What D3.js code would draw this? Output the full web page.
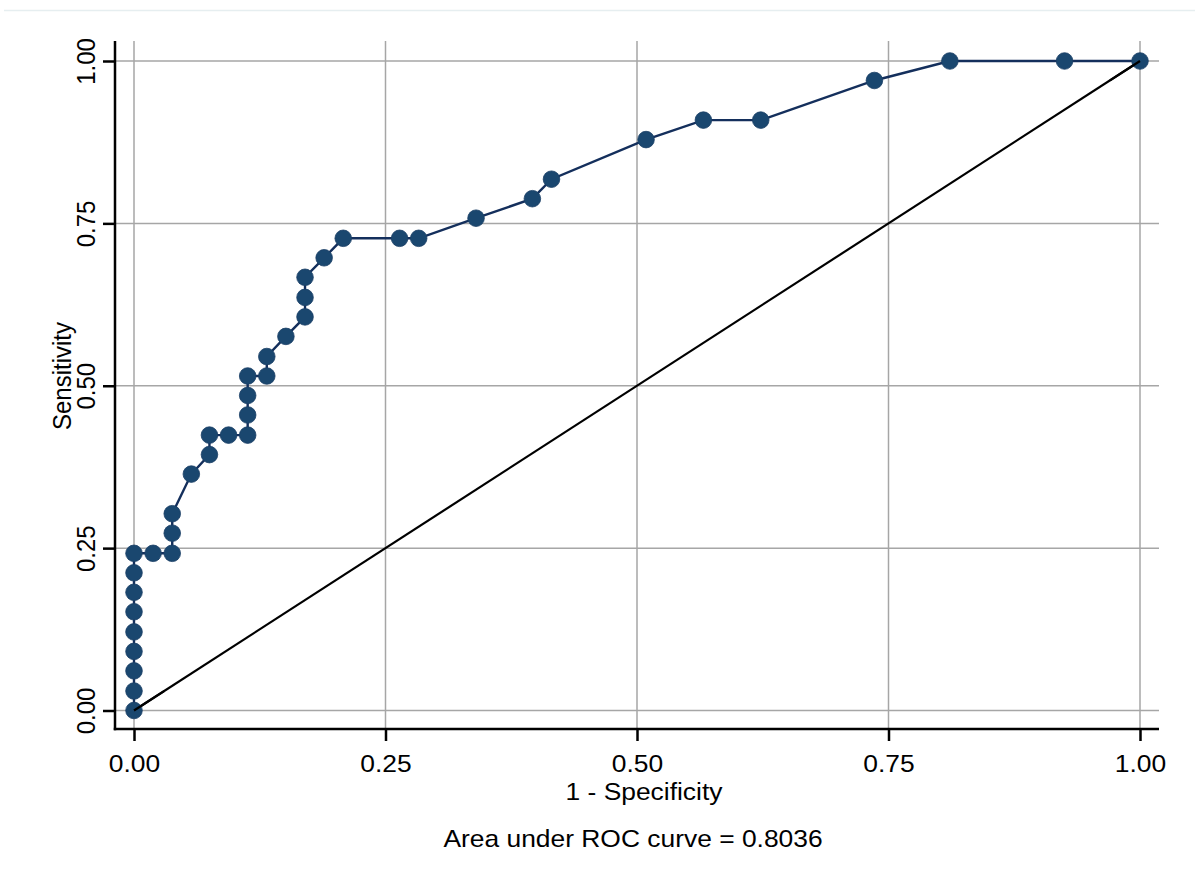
<!DOCTYPE html>
<html>
<head>
<meta charset="utf-8">
<script src="https://cdn.jsdelivr.net/npm/d3@7"></script>
<style>
  html, body { margin: 0; padding: 0; background: #fff; }
  svg { display: block; }
  text { font-family: "Liberation Sans", Arial, sans-serif; fill: #000; }
</style>
</head>
<body>
<svg id="chart" width="1200" height="879"></svg>
<script>
// ROC curve points (1 - specificity, sensitivity)
const fpr = [0, 0, 0, 0, 0, 0, 0, 0, 0, 0.019, 0.038, 0.038, 0.038, 0.057, 0.075, 0.075,
  0.094, 0.113, 0.113, 0.113, 0.113, 0.132, 0.132, 0.151, 0.170, 0.170, 0.170, 0.189,
  0.208, 0.264, 0.283, 0.340, 0.396, 0.415, 0.509, 0.566, 0.623, 0.736, 0.811, 0.925, 1.0];
const tpr = [0, 0.030, 0.061, 0.091, 0.121, 0.152, 0.182, 0.212, 0.242, 0.242, 0.242, 0.273,
  0.303, 0.364, 0.394, 0.424, 0.424, 0.424, 0.455, 0.485, 0.515, 0.515, 0.545, 0.576, 0.606,
  0.636, 0.667, 0.697, 0.727, 0.727, 0.727, 0.758, 0.788, 0.818, 0.879, 0.909, 0.909, 0.970,
  1.0, 1.0, 1.0];
const refX = [0, 1];
const refY = [0, 1];
const tickVals = [0, 0.25, 0.5, 0.75, 1];
const xTitle = "1 - Specificity";
const yTitle = "Sensitivity";
const note = "Area under ROC curve = 0.8036";

const svg = d3.select("#chart");
const x = d3.scaleLinear().domain([0, 1]).range([134, 1140]);
const y = d3.scaleLinear().domain([0, 1]).range([710.5, 61]);
const plotL = 115, plotR = 1159, plotT = 41, plotB = 729;
const SX = 1.1; // horizontal stretch of glyphs in the reference
const fs = 24;

// faint top rule
svg.append("line").attr("x1", 4).attr("x2", 1195).attr("y1", 10.5).attr("y2", 10.5)
  .attr("stroke", "#e6eef0").attr("stroke-width", 1.5);

// grid
const grid = svg.append("g").attr("stroke", "#a6a6a6").attr("stroke-width", 1.5);
grid.selectAll(".gv").data(tickVals).join("line")
  .attr("x1", d => x(d)).attr("x2", d => x(d)).attr("y1", plotT).attr("y2", plotB);
grid.selectAll(".gh").data(tickVals).join("line")
  .attr("x1", plotL).attr("x2", plotR).attr("y1", d => y(d)).attr("y2", d => y(d));

// axes
const xAxis = d3.axisBottom(x).tickValues(tickVals).tickFormat(d3.format(".2f"))
  .tickSize(12).tickSizeOuter(0);
const gx = svg.append("g").attr("transform", `translate(0,${plotB})`).call(xAxis);
gx.select(".domain").remove();
gx.selectAll(".tick line").attr("stroke", "#000").attr("stroke-width", 2.5);
gx.selectAll(".tick text").attr("font-size", fs).attr("dy", null).attr("y", 0)
  .attr("transform", `translate(0,42.5) scale(${SX},1)`)
  .attr("x", 0).attr("font-family", "Liberation Sans, Arial, sans-serif");
gx.append("line").attr("x1", plotL - 1.25).attr("x2", plotR).attr("y1", 0).attr("y2", 0)
  .attr("stroke", "#000").attr("stroke-width", 2.5);

const yAxis = d3.axisLeft(y).tickValues(tickVals).tickFormat(d3.format(".2f"))
  .tickSize(12).tickSizeOuter(0);
const gy = svg.append("g").attr("transform", `translate(${plotL},0)`).call(yAxis);
gy.select(".domain").remove();
gy.selectAll(".tick line").attr("stroke", "#000").attr("stroke-width", 2.5);
gy.selectAll(".tick text").attr("font-size", fs).attr("dy", null).attr("x", 0).attr("y", 0)
  .attr("text-anchor", "middle")
  .attr("transform", `translate(-20,0) scale(${SX},1) rotate(-90)`)
  .attr("font-family", "Liberation Sans, Arial, sans-serif");
gy.append("line").attr("x1", 0).attr("x2", 0).attr("y1", plotT).attr("y2", plotB + 1.25)
  .attr("stroke", "#000").attr("stroke-width", 2.5);

// reference diagonal
svg.append("line")
  .attr("x1", x(refX[0])).attr("y1", y(refY[0]))
  .attr("x2", x(refX[1])).attr("y2", y(refY[1]))
  .attr("stroke", "#000").attr("stroke-width", 2.2);

// ROC line
const pts = fpr.map((f, i) => [f, tpr[i]]);
svg.append("path").datum(pts)
  .attr("d", d3.line().x(d => x(d[0])).y(d => y(d[1])))
  .attr("fill", "none").attr("stroke", "#142f5c").attr("stroke-width", 2.4);

// markers
svg.append("g").selectAll("circle").data(pts).join("circle")
  .attr("cx", d => x(d[0])).attr("cy", d => y(d[1])).attr("r", 8.3)
  .attr("fill", "#1a476f").attr("stroke", "#1a3f66").attr("stroke-width", 0.8);

// diagonal end segments drawn over the first/last marker, as in the reference
const slope = (y(refY[0]) - y(refY[1])) / (x(refX[1]) - x(refX[0]));
svg.append("line")
  .attr("x1", x(refX[0])).attr("y1", y(refY[0]))
  .attr("x2", x(refX[0]) + 30).attr("y2", y(refY[0]) - 30 * slope)
  .attr("stroke", "#000").attr("stroke-width", 2.2);
svg.append("line")
  .attr("x1", x(refX[1]) - 30).attr("y1", y(refY[1]) + 30 * slope)
  .attr("x2", x(refX[1])).attr("y2", y(refY[1]))
  .attr("stroke", "#000").attr("stroke-width", 2.2);

// titles
svg.append("text").attr("text-anchor", "middle").attr("font-size", fs)
  .attr("transform", `translate(644,800) scale(${SX},1)`).text(xTitle);
svg.append("text").attr("text-anchor", "middle").attr("font-size", fs)
  .attr("transform", `translate(71,376) scale(${SX},1) rotate(-90)`).text(yTitle);
svg.append("text").attr("text-anchor", "middle").attr("font-size", fs)
  .attr("transform", `translate(633,847) scale(${SX},1)`).text(note);
</script>
</body>
</html>
